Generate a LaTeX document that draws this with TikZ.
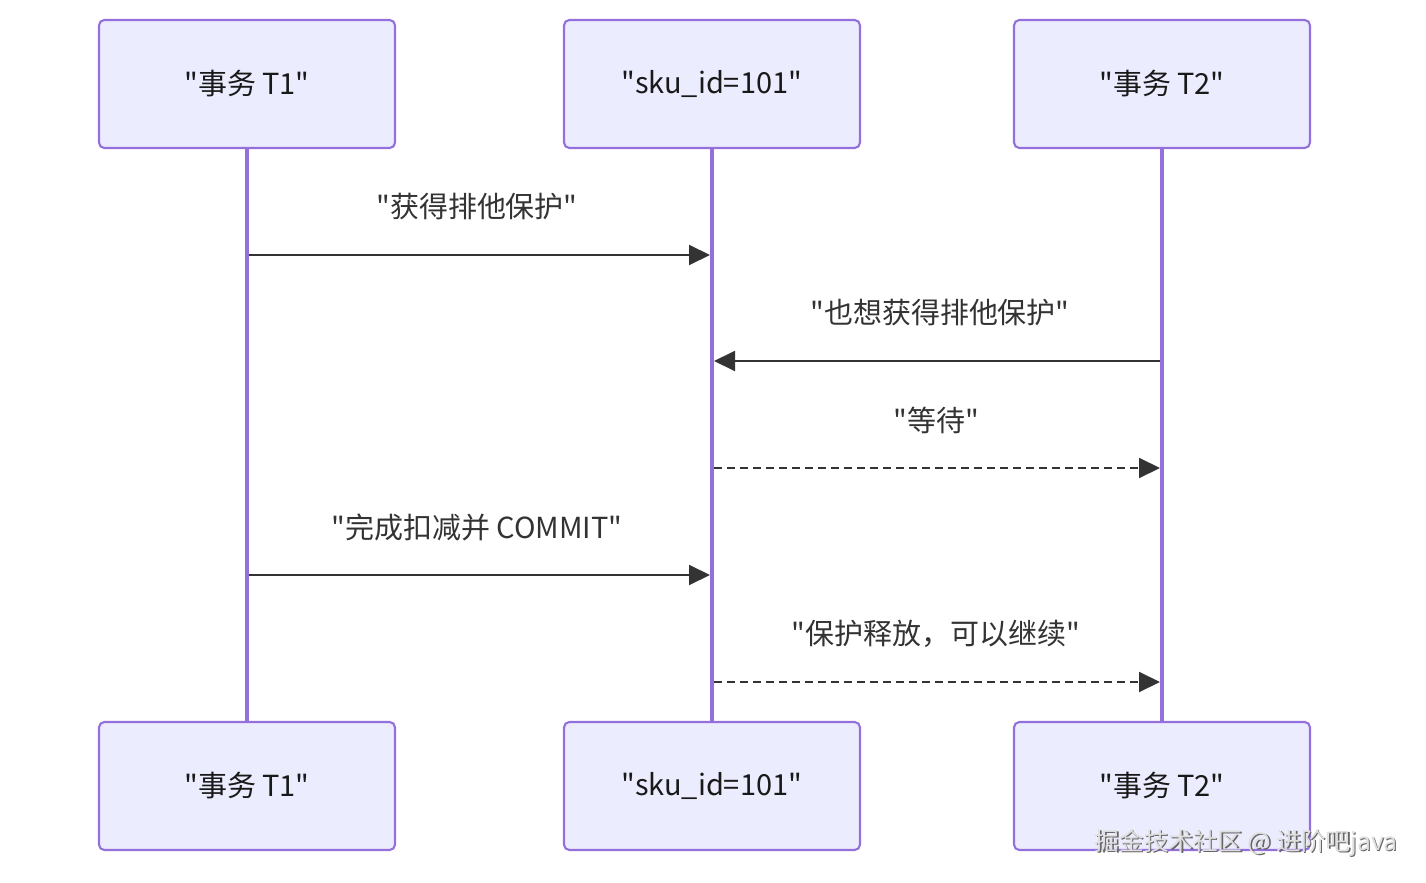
\documentclass[tikz,border=0pt]{standalone}
\usepackage{fontspec}
\setmainfont{Noto Sans CJK SC}[Ligatures=TeXOff]
\usepackage{xcolor}
\definecolor{colorActorFill}{HTML}{ECECFF}
\definecolor{colorActorLine}{HTML}{9370DB}
\definecolor{colorMsg}{HTML}{333333}
\usetikzlibrary{arrows.meta, positioning}
\tikzset{
  actor/.style={draw=colorActorLine, fill=colorActorFill, line width=1.2pt, rounded corners=3pt,
    minimum width=5.92cm, minimum height=2.56cm, font=\fontsize{16.5}{19}\selectfont, text=black!90},
  lifeline/.style={draw=colorActorLine, line width=2pt},
  msg/.style={draw=colorMsg, line width=1.1pt, -{Triangle[length=0.42cm, width=0.4cm]}},
  reply/.style={msg, dash pattern=on 0.16cm off 0.1cm},
  msglabel/.style={font=\fontsize{16.5}{19}\selectfont, text=colorMsg}
}
\begin{document}
\begin{tikzpicture}[x=0.02cm, y=-0.02cm]
\useasboundingbox (0,0) rectangle (1426,882);
% lifelines
\draw[lifeline] (247,148) -- (247,722);
\draw[lifeline] (712,148) -- (712,722);
\draw[lifeline] (1162,148) -- (1162,722);
% actors top / bottom
\node[actor] (t1top) at (247,84) {"事务 T1"};
\node[actor] (skutop) at (712,84) {"sku\_id=101"};
\node[actor] (t2top) at (1162,84) {"事务 T2"};
\node[actor] (t1bot) at (247,786) {"事务 T1"};
\node[actor] (skubot) at (712,786) {"sku\_id=101"};
\node[actor] (t2bot) at (1162,786) {"事务 T2"};
% message anchors
\coordinate (a1) at (249,255); \coordinate (b1) at (710,255);
\coordinate (a2) at (1160,361); \coordinate (b2) at (714,361);
\coordinate (a3) at (714,468); \coordinate (b3) at (1160,468);
\coordinate (a4) at (249,575); \coordinate (b4) at (710,575);
\coordinate (a5) at (714,682); \coordinate (b5) at (1160,682);
% messages
\draw[msg] (a1) -- (b1);
\node[msglabel] (l1) at (477,207) {"获得排他保护"};
\draw[msg] (a2) -- (b2);
\node[msglabel] (l2) at (940,313) {"也想获得排他保护"};
\draw[reply] (a3) -- (b3);
\node[msglabel] (l3) at (936,420) {"等待"};
\draw[msg] (a4) -- (b4);
\node[msglabel] (l4) at (477,527) {"完成扣减并 COMMIT"};
\draw[reply] (a5) -- (b5);
\node[msglabel] (l5) at (936,634) {"保护释放，可以继续"};
% watermark
\node[font=\fontsize{14}{16}\selectfont, text=gray!80!black] (wmshadow) at (1247.5,844.5) {掘金技术社区 @ 进阶吧java};
\node[font=\fontsize{14}{16}\selectfont, text=gray!25] (wm) at (1246,843) {掘金技术社区 @ 进阶吧java};
\end{tikzpicture}
\end{document}
